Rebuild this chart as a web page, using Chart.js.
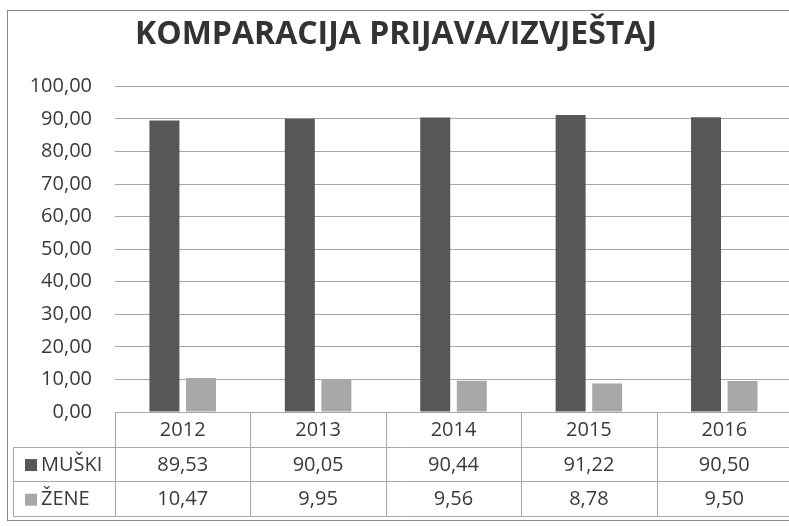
<!DOCTYPE html>
<html>
<head>
<meta charset="utf-8">
<script src="https://cdn.jsdelivr.net/npm/chart.js@4.4.1/dist/chart.umd.min.js"></script>
<style>
   html, body { margin: 0; padding: 0; background: #fff; overflow: hidden; }
   #wrap { width: 800px; height: 526px; }
</style>
</head>
<body>
<div id="wrap"><canvas id="chart" width="800" height="526"></canvas></div>
<script>
const years = ['2012', '2013', '2014', '2015', '2016']
const muski = [89.53, 90.05, 90.44, 91.22, 90.50]
const zene = [10.47, 9.95, 9.56, 8.78, 9.50]
const seriesNames = ['MUŠKI', 'ŽENE']
const seriesColors = ['#575757', '#a8a8a8']

const FONT = "'Open Sans', 'DejaVu Sans', sans-serif"
const fmt = (v) => v.toFixed(2).replace('.', ',')

// Tablica s podacima ispod grafa (kao u Excelu)
const dataTable = {
   id: 'dataTable',
   afterDraw(chart) {
      const { ctx, chartArea, scales } = chart
      const x = scales.x
      const rowH = 34.7
      const top = chartArea.bottom
      const left = 13
      const step = x.getPixelForValue(1) - x.getPixelForValue(0)
      const right = chartArea.right

      ctx.save()
      ctx.strokeStyle = '#a9a9a9'
      ctx.lineWidth = 1

      // vodoravne linije
      for (let r = 1; r <= 3; r++) {
         const y = Math.round(top + r * rowH) + 0.5
         ctx.beginPath()
         ctx.moveTo(left, y)
         ctx.lineTo(right, y)
         ctx.stroke()
      }
      // okomite linije
      ctx.beginPath()
      ctx.moveTo(left + 0.5, Math.round(top + rowH))
      ctx.lineTo(left + 0.5, Math.round(top + 3 * rowH))
      ctx.stroke()
      for (let i = 0; i <= years.length; i++) {
         const xx = Math.round(x.getPixelForValue(i) - step / 2) + 0.5
         ctx.beginPath()
         ctx.moveTo(xx, top)
         ctx.lineTo(xx, Math.round(top + 3 * rowH))
         ctx.stroke()
      }

      ctx.fillStyle = '#3a3a3a'
      ctx.font = '20px ' + FONT
      ctx.textAlign = 'center'
      ctx.textBaseline = 'middle'
      years.forEach((yr, i) => {
         const cx = x.getPixelForValue(i)
         ctx.fillText(yr, cx, top + rowH * 0.5 + 1)
         ctx.fillText(fmt(muski[i]), cx, top + rowH * 1.5 + 1)
         ctx.fillText(fmt(zene[i]), cx, top + rowH * 2.5 + 1)
      })

      // legenda u tablici
      ctx.textAlign = 'left'
      seriesNames.forEach((name, k) => {
         const cy = top + rowH * (1.5 + k)
         ctx.fillStyle = seriesColors[k]
         ctx.fillRect(25, cy - 5, 12, 12)
         ctx.fillStyle = '#3a3a3a'
         ctx.fillText(name, 41, cy + 1)
      })

      // okvir grafa
      ctx.strokeStyle = '#8a8a8a'
      ctx.strokeRect(7.5, 10.5, 900, 510)
      ctx.restore()
   }
}

new Chart(document.getElementById('chart'), {
   type: 'bar',
   data: {
      labels: years,
      datasets: [
         {
            label: seriesNames[0],
            data: muski,
            backgroundColor: seriesColors[0],
            barPercentage: 0.82,
            categoryPercentage: 0.54
         },
         {
            label: seriesNames[1],
            data: zene,
            backgroundColor: seriesColors[1],
            barPercentage: 0.82,
            categoryPercentage: 0.54
         }
      ]
   },
   options: {
      responsive: false,
      animation: false,
      layout: {
         padding: { left: 0, right: 8, top: 0, bottom: 114 }
      },
      plugins: {
         legend: { display: false },
         tooltip: { enabled: false },
         title: {
            display: true,
            text: 'KOMPARACIJA PRIJAVA/IZVJEŠTAJ',
            color: '#333',
            font: { family: FONT, size: 32, weight: 'bold' },
            padding: { top: 16, bottom: 32 }
         }
      },
      scales: {
         x: {
            display: false
         },
         y: {
            min: 0,
            max: 100,
            afterFit(scale) { scale.width = 115 },
            border: { display: false },
            grid: { color: '#a6a6a6', drawTicks: false },
            ticks: {
               stepSize: 10,
               padding: 23,
               color: '#3a3a3a',
               font: { family: FONT, size: 20 },
               callback: (v) => fmt(v)
            }
         }
      }
   },
   plugins: [dataTable]
})
</script>
</body>
</html>
